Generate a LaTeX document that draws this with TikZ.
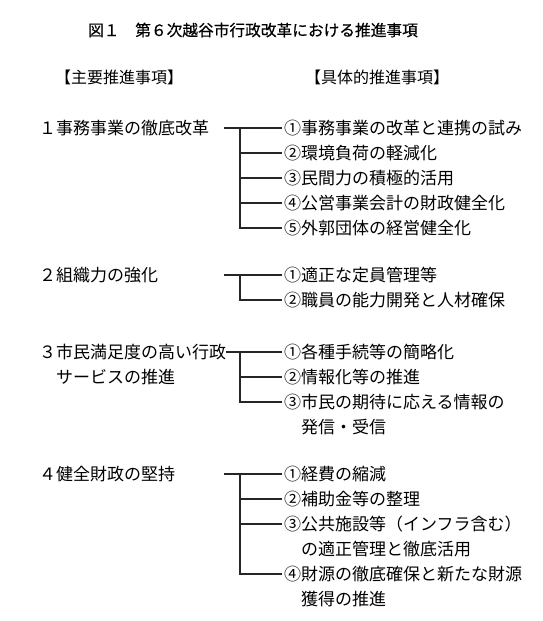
\documentclass[tikz,border=0pt]{standalone}
\usepackage{fontspec}
\setmainfont{Noto Sans CJK JP}
\newfontfamily\ttlfont{Noto Sans CJK JP}[FakeBold=0.5]
\newcommand{\cn}[1]{\makebox[1em][c]{#1}}
\begin{document}
\begin{tikzpicture}[x=1pt,y=-1pt,
  txt/.style={anchor=base west, inner sep=0pt, font=\fontsize{17}{17}\selectfont},
  hdr/.style={anchor=base west, inner sep=0pt, font=\fontsize{16}{16}\selectfont},
  ttl/.style={anchor=base, inner sep=0pt, font=\ttlfont\fontsize{15.7}{16}\selectfont},
  ln/.style={line width=1.1pt, black!85, shorten >=2pt}]
\useasboundingbox (0,0) rectangle (543,621);
% title and headers
\node[ttl] (title) at (253,36) {図１　第６次越谷市行政改革における推進事項};
\node[hdr] (hleft) at (55,83) {【主要推進事項】};
\node[hdr] (hright) at (305,83) {【具体的推進事項】};
% section 1
\node[txt] (L1) at (39,134) {１事務事業の徹底改革};
\node[txt] (R1a) at (284,134) {\cn{①}事務事業の改革と連携の試み};
\node[txt] (R1b) at (284,159) {\cn{②}環境負荷の軽減化};
\node[txt] (R1c) at (284,184) {\cn{③}民間力の積極的活用};
\node[txt] (R1d) at (284,209) {\cn{④}公営事業会計の財政健全化};
\node[txt] (R1e) at (284,234) {\cn{⑤}外郭団体の経営健全化};
\coordinate (H1) at (224,128);
\coordinate (J1) at (240,128);
\draw[ln] (H1) -- (R1a.west |- H1);
\draw[ln] (J1) |- (R1e.west |- 0,228);
\draw[ln] (J1 |- 0,153) -- (R1b.west |- 0,153);
\draw[ln] (J1 |- 0,178) -- (R1c.west |- 0,178);
\draw[ln] (J1 |- 0,203) -- (R1d.west |- 0,203);
% section 2
\node[txt] (L2) at (39,281) {２組織力の強化};
\node[txt] (R2a) at (284,281) {\cn{①}適正な定員管理等};
\node[txt] (R2b) at (284,306) {\cn{②}職員の能力開発と人材確保};
\coordinate (H2) at (224,275);
\coordinate (J2) at (240,275);
\draw[ln] (H2) -- (R2a.west |- H2);
\draw[ln] (J2) |- (R2b.west |- 0,300);
% section 3
\node[txt] (L3) at (39,358) {３市民満足度の高い行政};
\node[txt] (L3b) at (56,383) {サービスの推進};
\node[txt] (R3a) at (284,358) {\cn{①}各種手続等の簡略化};
\node[txt] (R3b) at (284,383) {\cn{②}情報化等の推進};
\node[txt] (R3c) at (284,408) {\cn{③}市民の期待に応える情報の};
\node[txt] (R3c2) at (301,433) {発信・受信};
\coordinate (H3) at (L3.east |- 0,352);
\coordinate (J3) at (240,352);
\draw[ln] (H3) -- (R3a.west |- H3);
\draw[ln] (J3) |- (R3c.west |- 0,402);
\draw[ln] (J3 |- 0,377) -- (R3b.west |- 0,377);
% section 4
\node[txt] (L4) at (39,480) {４健全財政の堅持};
\node[txt] (R4a) at (284,480) {\cn{①}経費の縮減};
\node[txt] (R4b) at (284,505) {\cn{②}補助金等の整理};
\node[txt] (R4c) at (284,530) {\cn{③}公共施設等（インフラ含む）};
\node[txt] (R4c2) at (301,555) {の適正管理と徹底活用};
\node[txt] (R4d) at (284,580) {\cn{④}財源の徹底確保と新たな財源};
\node[txt] (R4d2) at (301,605) {獲得の推進};
\coordinate (H4) at (224,474);
\coordinate (J4) at (240,474);
\draw[ln] (H4) -- (R4a.west |- H4);
\draw[ln] (J4) |- (R4d.west |- 0,574);
\draw[ln] (J4 |- 0,499) -- (R4b.west |- 0,499);
\draw[ln] (J4 |- 0,524) -- (R4c.west |- 0,524);
\end{tikzpicture}
\end{document}
